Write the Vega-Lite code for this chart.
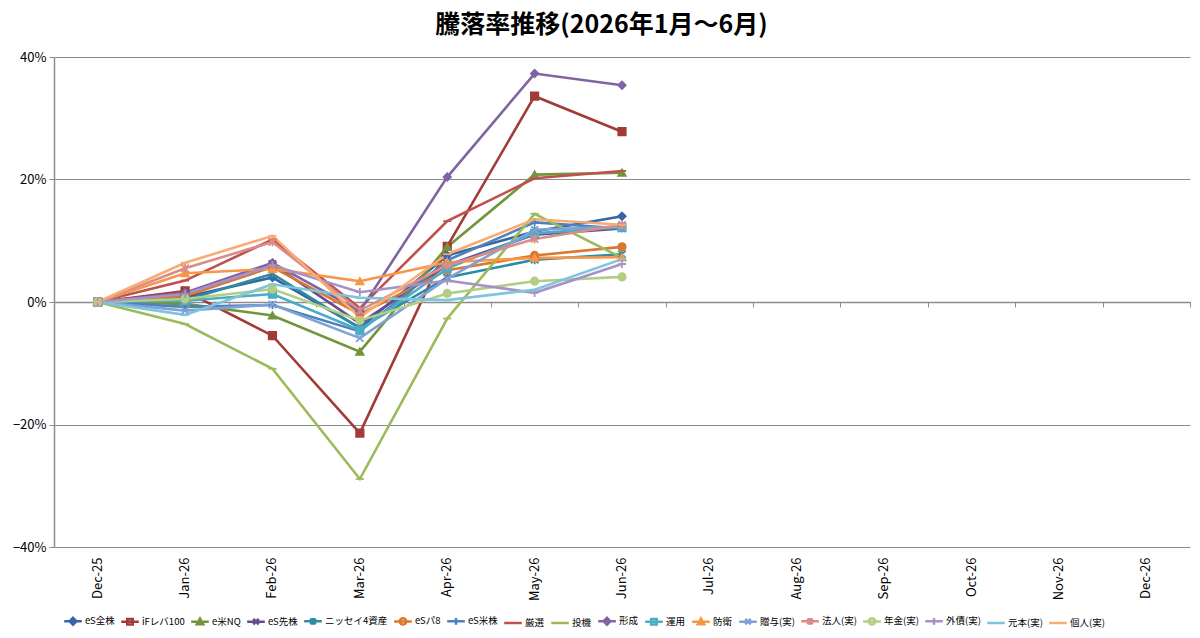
{
  "$schema": "https://vega.github.io/schema/vega-lite/v6.json",
  "width": 1136,
  "height": 490,
  "padding": {"left": 12, "right": 12, "top": 13, "bottom": 4},
  "background": "white",
  "title": {"text": "騰落率推移(2026年1月～6月)", "fontSize": 25, "font": "Noto Sans CJK JP", "fontWeight": "bold", "anchor": "middle", "frame": "bounds", "offset": 13, "color": "#000000"},
  "config": {
    "view": {"stroke": null},
    "legend": {"orient": "none", "legendX": 12, "legendY": 557, "direction": "horizontal", "title": null, "labelFont": "Noto Sans CJK JP", "labelFontSize": 9.5, "labelColor": "#000000", "symbolSize": 121, "symbolStrokeWidth": 2.5, "labelOffset": 5, "columnPadding": 1, "columns": 18}
  },
  "data": {"values": [
    {"series":"eS全株","month":"Dec-25","value":0},{"series":"eS全株","month":"Jan-26","value":0.008},{"series":"eS全株","month":"Feb-26","value":0.040},{"series":"eS全株","month":"Mar-26","value":-0.042},{"series":"eS全株","month":"Apr-26","value":0.076},{"series":"eS全株","month":"May-26","value":0.115},{"series":"eS全株","month":"Jun-26","value":0.140},
    {"series":"iFレバ100","month":"Dec-25","value":0},{"series":"iFレバ100","month":"Jan-26","value":0.018},{"series":"iFレバ100","month":"Feb-26","value":-0.055},{"series":"iFレバ100","month":"Mar-26","value":-0.214},{"series":"iFレバ100","month":"Apr-26","value":0.091},{"series":"iFレバ100","month":"May-26","value":0.336},{"series":"iFレバ100","month":"Jun-26","value":0.278},
    {"series":"e米NQ","month":"Dec-25","value":0},{"series":"e米NQ","month":"Jan-26","value":-0.003},{"series":"e米NQ","month":"Feb-26","value":-0.022},{"series":"e米NQ","month":"Mar-26","value":-0.081},{"series":"e米NQ","month":"Apr-26","value":0.090},{"series":"e米NQ","month":"May-26","value":0.208},{"series":"e米NQ","month":"Jun-26","value":0.211},
    {"series":"eS先株","month":"Dec-25","value":0},{"series":"eS先株","month":"Jan-26","value":0.012},{"series":"eS先株","month":"Feb-26","value":0.062},{"series":"eS先株","month":"Mar-26","value":-0.035},{"series":"eS先株","month":"Apr-26","value":0.060},{"series":"eS先株","month":"May-26","value":0.110},{"series":"eS先株","month":"Jun-26","value":0.120},
    {"series":"ニッセイ4資産","month":"Dec-25","value":0},{"series":"ニッセイ4資産","month":"Jan-26","value":0.003},{"series":"ニッセイ4資産","month":"Feb-26","value":0.046},{"series":"ニッセイ4資産","month":"Mar-26","value":-0.043},{"series":"ニッセイ4資産","month":"Apr-26","value":0.040},{"series":"ニッセイ4資産","month":"May-26","value":0.069},{"series":"ニッセイ4資産","month":"Jun-26","value":0.078},
    {"series":"eSパ8","month":"Dec-25","value":0},{"series":"eSパ8","month":"Jan-26","value":0.010},{"series":"eSパ8","month":"Feb-26","value":0.057},{"series":"eSパ8","month":"Mar-26","value":-0.020},{"series":"eSパ8","month":"Apr-26","value":0.052},{"series":"eSパ8","month":"May-26","value":0.076},{"series":"eSパ8","month":"Jun-26","value":0.090},
    {"series":"eS米株","month":"Dec-25","value":0},{"series":"eS米株","month":"Jan-26","value":-0.008},{"series":"eS米株","month":"Feb-26","value":-0.005},{"series":"eS米株","month":"Mar-26","value":-0.048},{"series":"eS米株","month":"Apr-26","value":0.068},{"series":"eS米株","month":"May-26","value":0.130},{"series":"eS米株","month":"Jun-26","value":0.120},
    {"series":"厳選","month":"Dec-25","value":0},{"series":"厳選","month":"Jan-26","value":0.035},{"series":"厳選","month":"Feb-26","value":0.102},{"series":"厳選","month":"Mar-26","value":-0.010},{"series":"厳選","month":"Apr-26","value":0.132},{"series":"厳選","month":"May-26","value":0.202},{"series":"厳選","month":"Jun-26","value":0.214},
    {"series":"投機","month":"Dec-25","value":0},{"series":"投機","month":"Jan-26","value":-0.036},{"series":"投機","month":"Feb-26","value":-0.109},{"series":"投機","month":"Mar-26","value":-0.289},{"series":"投機","month":"Apr-26","value":-0.027},{"series":"投機","month":"May-26","value":0.144},{"series":"投機","month":"Jun-26","value":0.072},
    {"series":"形成","month":"Dec-25","value":0},{"series":"形成","month":"Jan-26","value":0.015},{"series":"形成","month":"Feb-26","value":0.064},{"series":"形成","month":"Mar-26","value":-0.015},{"series":"形成","month":"Apr-26","value":0.204},{"series":"形成","month":"May-26","value":0.373},{"series":"形成","month":"Jun-26","value":0.354},
    {"series":"運用","month":"Dec-25","value":0},{"series":"運用","month":"Jan-26","value":0.002},{"series":"運用","month":"Feb-26","value":0.013},{"series":"運用","month":"Mar-26","value":-0.046},{"series":"運用","month":"Apr-26","value":0.055},{"series":"運用","month":"May-26","value":0.112},{"series":"運用","month":"Jun-26","value":0.122},
    {"series":"防衛","month":"Dec-25","value":0},{"series":"防衛","month":"Jan-26","value":0.047},{"series":"防衛","month":"Feb-26","value":0.054},{"series":"防衛","month":"Mar-26","value":0.034},{"series":"防衛","month":"Apr-26","value":0.065},{"series":"防衛","month":"May-26","value":0.072},{"series":"防衛","month":"Jun-26","value":0.073},
    {"series":"贈与(実)","month":"Dec-25","value":0},{"series":"贈与(実)","month":"Jan-26","value":-0.014},{"series":"贈与(実)","month":"Feb-26","value":-0.004},{"series":"贈与(実)","month":"Mar-26","value":-0.059},{"series":"贈与(実)","month":"Apr-26","value":0.038},{"series":"贈与(実)","month":"May-26","value":0.118},{"series":"贈与(実)","month":"Jun-26","value":0.123},
    {"series":"法人(実)","month":"Dec-25","value":0},{"series":"法人(実)","month":"Jan-26","value":0.055},{"series":"法人(実)","month":"Feb-26","value":0.098},{"series":"法人(実)","month":"Mar-26","value":-0.014},{"series":"法人(実)","month":"Apr-26","value":0.060},{"series":"法人(実)","month":"May-26","value":0.103},{"series":"法人(実)","month":"Jun-26","value":0.126},
    {"series":"年金(実)","month":"Dec-25","value":0},{"series":"年金(実)","month":"Jan-26","value":0.005},{"series":"年金(実)","month":"Feb-26","value":0.021},{"series":"年金(実)","month":"Mar-26","value":-0.030},{"series":"年金(実)","month":"Apr-26","value":0.014},{"series":"年金(実)","month":"May-26","value":0.034},{"series":"年金(実)","month":"Jun-26","value":0.041},
    {"series":"外債(実)","month":"Dec-25","value":0},{"series":"外債(実)","month":"Jan-26","value":0.013},{"series":"外債(実)","month":"Feb-26","value":0.060},{"series":"外債(実)","month":"Mar-26","value":0.016},{"series":"外債(実)","month":"Apr-26","value":0.035},{"series":"外債(実)","month":"May-26","value":0.015},{"series":"外債(実)","month":"Jun-26","value":0.062},
    {"series":"元本(実)","month":"Dec-25","value":0},{"series":"元本(実)","month":"Jan-26","value":-0.021},{"series":"元本(実)","month":"Feb-26","value":0.029},{"series":"元本(実)","month":"Mar-26","value":0.007},{"series":"元本(実)","month":"Apr-26","value":0.003},{"series":"元本(実)","month":"May-26","value":0.020},{"series":"元本(実)","month":"Jun-26","value":0.070},
    {"series":"個人(実)","month":"Dec-25","value":0},{"series":"個人(実)","month":"Jan-26","value":0.064},{"series":"個人(実)","month":"Feb-26","value":0.108},{"series":"個人(実)","month":"Mar-26","value":-0.025},{"series":"個人(実)","month":"Apr-26","value":0.078},{"series":"個人(実)","month":"May-26","value":0.135},{"series":"個人(実)","month":"Jun-26","value":0.126}
  ]},
  "encoding": {
    "y": {"field": "value", "type": "quantitative",
      "scale": {"domain": [-0.4, 0.4], "nice": false, "zero": false},
      "axis": {"title": null, "format": ".0%", "values": [-0.4, -0.2, 0, 0.2, 0.4], "grid": true, "gridColor": "#8c8c8c", "gridWidth": 1, "domainColor": "#8c8c8c", "domainWidth": 1.5, "tickColor": "#8c8c8c", "tickSize": 5, "labelFont": "Noto Sans CJK JP", "labelFontSize": 13, "labelColor": "#000000", "labelPadding": 3}}
  },
  "layer": [
    {
      "mark": {"type": "line", "strokeWidth": 2.6, "interpolate": "linear"},
      "encoding": {
        "x": {"field": "month", "type": "ordinal",
          "scale": {"type": "band", "domain": ["Dec-25","Jan-26","Feb-26","Mar-26","Apr-26","May-26","Jun-26","Jul-26","Aug-26","Sep-26","Oct-26","Nov-26","Dec-26"], "paddingInner": 0, "paddingOuter": 0},
          "bandPosition": 0.5,
          "axis": {"orient": "bottom", "offset": -245, "labels": false, "title": null, "tickBand": "extent", "ticks": true, "tickSize": 5, "tickColor": "#8c8c8c", "domainColor": "#8c8c8c", "domainWidth": 1.5, "grid": false}},
        "color": {"field": "series", "type": "nominal", "legend": null,
          "scale": {"domain": ["eS全株","iFレバ100","e米NQ","eS先株","ニッセイ4資産","eSパ8","eS米株","厳選","投機","形成","運用","防衛","贈与(実)","法人(実)","年金(実)","外債(実)","元本(実)","個人(実)"],
                    "range": ["#3566A8","#A23B38","#72953A","#664C8C","#2F8BA3","#D9782E","#4F81BD","#C0504D","#9BBB59","#8064A2","#4BACC6","#F79646","#7EA1D6","#DB8C89","#B2CD84","#A692C9","#7FC4DB","#F9AC72"]}}
      }
    },
    {
      "mark": {"type": "point", "filled": true, "strokeWidth": 1.8, "size": 55, "opacity": 1},
      "encoding": {
        "x": {"field": "month", "type": "ordinal", "bandPosition": 0.5,
          "axis": {"orient": "bottom", "title": null, "domain": false, "ticks": false, "grid": false, "labelAngle": -90, "labelFont": "Noto Sans CJK JP", "labelFontSize": 13, "labelColor": "#000000", "labelPadding": 10}},
        "fill": {"field": "series", "type": "nominal", "legend": null,
          "scale": {"domain": ["eS全株","iFレバ100","e米NQ","eS先株","ニッセイ4資産","eSパ8","eS米株","厳選","投機","形成","運用","防衛","贈与(実)","法人(実)","年金(実)","外債(実)","元本(実)","個人(実)"],
                    "range": ["#3566A8","#A23B38","#72953A","#664C8C","#2F8BA3","#D9782E","#4F81BD","#C0504D","#9BBB59","#8064A2","#4BACC6","#F79646","#7EA1D6","#DB8C89","#B2CD84","#A692C9","#7FC4DB","#F9AC72"]}},
        "stroke": {"field": "series", "type": "nominal", "legend": null,
          "scale": {"domain": ["eS全株","iFレバ100","e米NQ","eS先株","ニッセイ4資産","eSパ8","eS米株","厳選","投機","形成","運用","防衛","贈与(実)","法人(実)","年金(実)","外債(実)","元本(実)","個人(実)"],
                    "range": ["#3566A8","#A23B38","#72953A","#664C8C","#2F8BA3","#D9782E","#4F81BD","#C0504D","#9BBB59","#8064A2","#4BACC6","#F79646","#7EA1D6","#DB8C89","#B2CD84","#A692C9","#7FC4DB","#F9AC72"]}},
        "shape": {"field": "series", "type": "nominal", "legend": null,
          "scale": {"domain": ["eS全株","iFレバ100","e米NQ","eS先株","ニッセイ4資産","eSパ8","eS米株","厳選","投機","形成","運用","防衛","贈与(実)","法人(実)","年金(実)","外債(実)","元本(実)","個人(実)"],
                    "range": ["diamond","square","triangle-up","M-1,-1L1,1M-1,1L1,-1","M-1,-1L1,1M-1,1L1,-1M0,-1.2V1.2","circle","M-1.1,0H1.1M0,-1.1V1.1","M-1.1,0H1.1","M-1.1,0H1.1","diamond","square","triangle-up","M-1,-1L1,1M-1,1L1,-1","M-1,-1L1,1M-1,1L1,-1M0,-1.2V1.2","circle","M-1.1,0H1.1M0,-1.1V1.1","M-1.1,0H1.1","M-1.1,0H1.1"]}}
      }
    },
    {
      "mark": {"type": "point", "filled": true, "opacity": 0},
      "encoding": {
        "x": {"field": "month", "type": "ordinal", "bandPosition": 0.5, "axis": null},
        "fill": {"field": "series", "type": "nominal", "legend": {"title": null},
          "scale": {"domain": ["eS全株","iFレバ100","e米NQ","eS先株","ニッセイ4資産","eSパ8","eS米株","厳選","投機","形成","運用","防衛","贈与(実)","法人(実)","年金(実)","外債(実)","元本(実)","個人(実)"],
                    "range": ["#3566A8","#A23B38","#72953A","#664C8C","#2F8BA3","#D9782E","#4F81BD","#C0504D","#9BBB59","#8064A2","#4BACC6","#F79646","#7EA1D6","#DB8C89","#B2CD84","#A692C9","#7FC4DB","#F9AC72"]}},
        "stroke": {"field": "series", "type": "nominal", "legend": {"title": null},
          "scale": {"domain": ["eS全株","iFレバ100","e米NQ","eS先株","ニッセイ4資産","eSパ8","eS米株","厳選","投機","形成","運用","防衛","贈与(実)","法人(実)","年金(実)","外債(実)","元本(実)","個人(実)"],
                    "range": ["#3566A8","#A23B38","#72953A","#664C8C","#2F8BA3","#D9782E","#4F81BD","#C0504D","#9BBB59","#8064A2","#4BACC6","#F79646","#7EA1D6","#DB8C89","#B2CD84","#A692C9","#7FC4DB","#F9AC72"]}},
        "shape": {"field": "series", "type": "nominal", "legend": {"title": null},
          "scale": {"domain": ["eS全株","iFレバ100","e米NQ","eS先株","ニッセイ4資産","eSパ8","eS米株","厳選","投機","形成","運用","防衛","贈与(実)","法人(実)","年金(実)","外債(実)","元本(実)","個人(実)"],
                    "range": [
                      "M-1.6,0H1.6M0,-0.62L0.62,0L0,0.62L-0.62,0Z",
                      "M-1.6,0H1.6M-0.5,-0.5H0.5V0.5H-0.5Z",
                      "M-1.6,0H1.6M0,-0.58L0.58,0.48L-0.58,0.48Z",
                      "M-1.6,0H1.6M-0.5,-0.5L0.5,0.5M-0.5,0.5L0.5,-0.5",
                      "M-1.6,0H1.6M-0.5,-0.5L0.5,0.5M-0.5,0.5L0.5,-0.5M0,-0.6V0.6",
                      "M-1.6,0H1.6M-0.58,0A0.58,0.58,0,1,0,0.58,0A0.58,0.58,0,1,0,-0.58,0Z",
                      "M-1.6,0H1.6M0,-0.6V0.6",
                      "M-1.6,0H1.6",
                      "M-1.6,0H1.6",
                      "M-1.6,0H1.6M0,-0.62L0.62,0L0,0.62L-0.62,0Z",
                      "M-1.6,0H1.6M-0.5,-0.5H0.5V0.5H-0.5Z",
                      "M-1.6,0H1.6M0,-0.58L0.58,0.48L-0.58,0.48Z",
                      "M-1.6,0H1.6M-0.5,-0.5L0.5,0.5M-0.5,0.5L0.5,-0.5",
                      "M-1.6,0H1.6M-0.5,-0.5L0.5,0.5M-0.5,0.5L0.5,-0.5M0,-0.6V0.6",
                      "M-1.6,0H1.6M-0.58,0A0.58,0.58,0,1,0,0.58,0A0.58,0.58,0,1,0,-0.58,0Z",
                      "M-1.6,0H1.6M0,-0.6V0.6",
                      "M-1.6,0H1.6",
                      "M-1.6,0H1.6"]}}
      }
    }
  ],
  "resolve": {
    "scale": {"color": "independent", "fill": "independent", "stroke": "independent", "shape": "independent"},
    "axis": {"x": "independent"}
  }
}
